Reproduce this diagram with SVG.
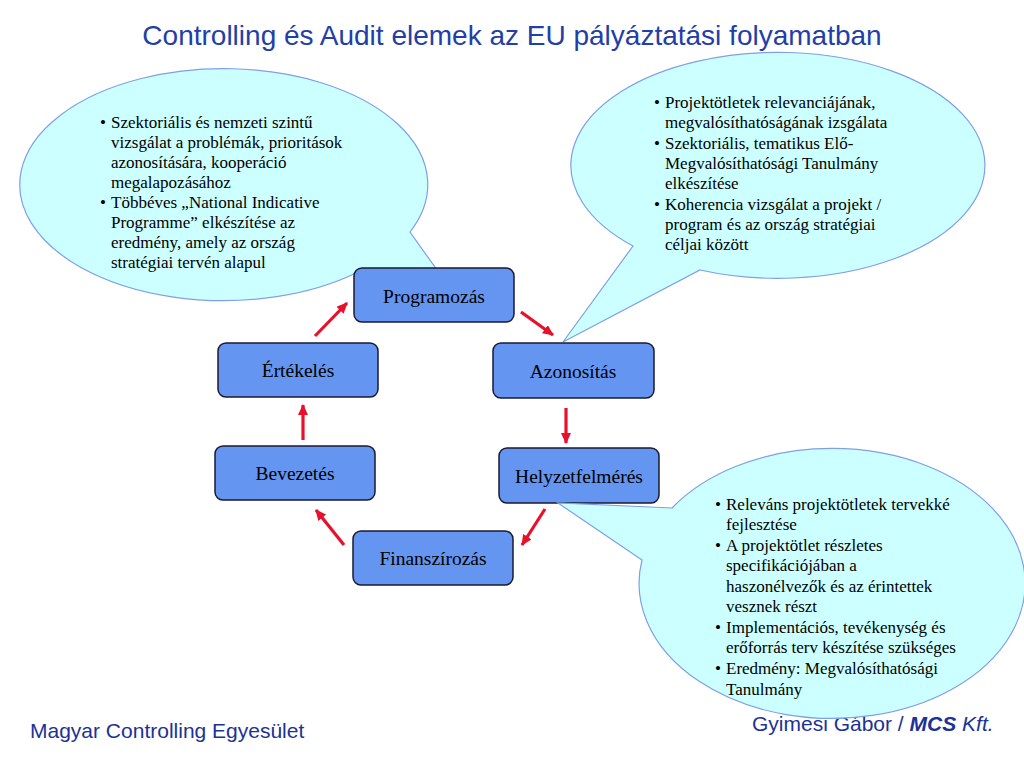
<svg xmlns="http://www.w3.org/2000/svg" width="1024" height="768" viewBox="0 0 1024 768">
<style>
.title{font-family:"Liberation Sans",Arial,sans-serif;font-size:28px;fill:#1f40a8}
.foot{font-family:"Liberation Sans",Arial,sans-serif;font-size:21px;fill:#1c3296}
.call{fill:#ccffff;stroke:#7f9fe8;stroke-width:1.2}
.ct{font-family:"Liberation Serif","Times New Roman",serif;font-size:17px;fill:#000}
.box{fill:#6495f0;stroke:#1a1a30;stroke-width:1.5}
.bt{font-family:"Liberation Serif","Times New Roman",serif;font-size:19.5px;fill:#000;text-anchor:middle}
.arr{stroke:#e8102a;stroke-width:3.2;fill:none;marker-end:url(#ah)}
</style>
<defs>
<marker id="ah" markerWidth="12" markerHeight="10" refX="10" refY="5" orient="auto" markerUnits="userSpaceOnUse">
<path d="M0,0 L11,5 L0,10 Z" fill="#e8102a"/>
</marker>
</defs>
<rect width="1024" height="768" fill="#fff"/>
<text class="title" x="512" y="45" text-anchor="middle">Controlling és Audit elemek az EU pályáztatási folyamatban</text>
<text class="foot" x="30" y="738">Magyar Controlling Egyesület</text>
<text class="foot" x="752" y="731">Gyimesi Gábor / <tspan font-weight="bold" font-style="italic">MCS</tspan> <tspan font-style="italic">Kft.</tspan></text>

<g id="callout1">
<path class="call" d="M358,272 A204,116 0 1 1 410,232 L437,270 Z"/>
<text class="ct"><tspan x="100" y="128">•</tspan><tspan x="111" y="128">Szektoriális és nemzeti szintű</tspan><tspan x="111" y="148">vizsgálat a problémák, prioritások</tspan><tspan x="111" y="168">azonosítására, kooperáció</tspan><tspan x="111" y="188">megalapozásához</tspan><tspan x="100" y="208">•</tspan><tspan x="111" y="208">Többéves „National Indicative</tspan><tspan x="111" y="228">Programme” elkészítése az</tspan><tspan x="111" y="248">eredmény, amely az ország</tspan><tspan x="111" y="268">stratégiai tervén alapul</tspan></text>
</g>
<g id="callout2">
<path class="call" d="M633,246 A207,113 0 1 1 700,270 L563,342 Z"/>
<text class="ct"><tspan x="654" y="108">•</tspan><tspan x="665" y="108">Projektötletek relevanciájának,</tspan><tspan x="665" y="128">megvalósíthatóságának izsgálata</tspan><tspan x="654" y="149">•</tspan><tspan x="665" y="149">Szektoriális, tematikus Elő-</tspan><tspan x="665" y="169">Megvalósíthatósági Tanulmány</tspan><tspan x="665" y="189">elkészítése</tspan><tspan x="654" y="210">•</tspan><tspan x="665" y="210">Koherencia vizsgálat a projekt /</tspan><tspan x="665" y="230">program és az ország stratégiai</tspan><tspan x="665" y="250">céljai között</tspan></text>
</g>

<g id="connectors">
<line class="arr" x1="315" y1="336" x2="347" y2="303"/>
<line class="arr" x1="521" y1="312" x2="553" y2="335"/>
<line class="arr" x1="566" y1="408" x2="566" y2="443"/>
<line class="arr" x1="545" y1="509" x2="522" y2="545"/>
<line class="arr" x1="344" y1="545" x2="316" y2="510"/>
<line class="arr" x1="303" y1="440" x2="303" y2="405"/>
</g>

<g id="programozas"><rect class="box" x="354" y="268" width="160" height="54" rx="8"/><text class="bt" x="434" y="303">Programozás</text></g>
<g id="ertekeles"><rect class="box" x="218" y="343" width="160" height="54" rx="8"/><text class="bt" x="298" y="377">Értékelés</text></g>
<g id="azonositas"><rect class="box" x="493" y="343" width="161" height="55" rx="8"/><text class="bt" x="573" y="378">Azonosítás</text></g>
<g id="bevezetes"><rect class="box" x="215" y="446" width="160" height="54" rx="8"/><text class="bt" x="295" y="480">Bevezetés</text></g>
<g id="helyzetfelmeres"><rect class="box" x="499" y="448" width="160" height="55" rx="8"/><text class="bt" x="579" y="483">Helyzetfelmérés</text></g>
<g id="finanszirozas"><rect class="box" x="353" y="531" width="160" height="54" rx="8"/><text class="bt" x="433" y="565">Finanszírozás</text></g>

<g id="callout3">
<path class="call" d="M672,508 A193,135 0 1 1 642,560 L558,503 Z"/>
<text class="ct"><tspan x="715" y="510">•</tspan><tspan x="726" y="510">Releváns projektötletek tervekké</tspan><tspan x="726" y="530">fejlesztése</tspan><tspan x="715" y="551">•</tspan><tspan x="726" y="551">A projektötlet részletes</tspan><tspan x="726" y="571">specifikációjában a</tspan><tspan x="726" y="592">haszonélvezők és az érintettek</tspan><tspan x="726" y="612">vesznek részt</tspan><tspan x="715" y="633">•</tspan><tspan x="726" y="633">Implementációs, tevékenység és</tspan><tspan x="726" y="653">erőforrás terv készítése szükséges</tspan><tspan x="715" y="674">•</tspan><tspan x="726" y="674">Eredmény: Megvalósíthatósági</tspan><tspan x="726" y="695">Tanulmány</tspan></text>
</g>
</svg>
